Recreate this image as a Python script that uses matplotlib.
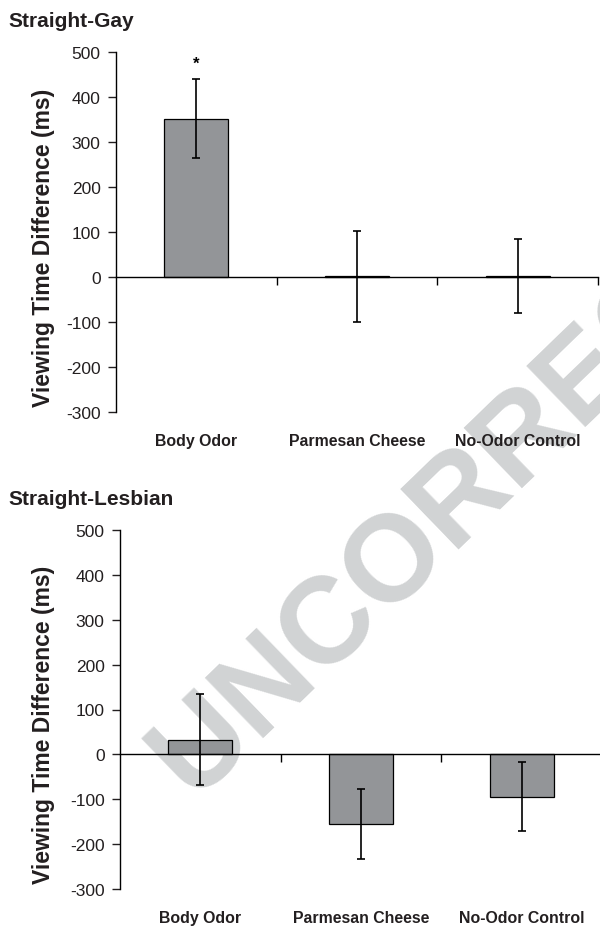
import matplotlib
matplotlib.use("Agg")
import matplotlib.pyplot as plt

plt.rcParams['font.family'] = ['Liberation Sans', 'DejaVu Sans']

# data
categories = ["Body Odor", "Parmesan Cheese", "No-Odor Control"]
gay_means = [352, 2, 1.5]
gay_errors = [87, 101, 82]
lesbian_means = [33, -155, -94]
lesbian_errors = [101, 78, 77]
panel_titles = ["Straight-Gay", "Straight-Lesbian"]
y_ticks = [-300, -200, -100, 0, 100, 200, 300, 400, 500]
star_value = 474

BAR_COLOR = '#939598'
TEXT_COLOR = '#231f20'
W, H = 600, 928


def draw_panel(ax, means, errors, star=None):
    x = list(range(len(categories)))
    ax.bar(x, means, width=0.4, color=BAR_COLOR, edgecolor='black',
           linewidth=0.9, zorder=2)
    ax.errorbar(x, means, yerr=errors, fmt='none', ecolor='black',
                elinewidth=1.2, capsize=3, capthick=1.2, zorder=3)
    if star is not None:
        ax.text(0, star, '*', ha='center', va='center', fontsize=12,
                fontweight='bold')

    ax.set_xlim(-0.5, len(categories) - 0.5)
    ax.set_ylim(y_ticks[0], y_ticks[-1])
    ax.set_yticks(y_ticks)
    ax.set_yticklabels([str(t) for t in y_ticks], fontsize=12.5)
    ax.set_xticks([i + 0.5 for i in range(len(categories))])
    ax.set_xticklabels([])

    ax.spines['top'].set_visible(False)
    ax.spines['right'].set_visible(False)
    ax.spines['bottom'].set_position(('data', 0))
    for s in ('left', 'bottom'):
        ax.spines[s].set_linewidth(1.0)
    ax.tick_params(axis='y', direction='out', length=6, width=1.0, pad=5,
                   colors=TEXT_COLOR)
    ax.tick_params(axis='x', direction='out', length=6, width=1.0)
    ax.set_facecolor('none')

    for i, name in enumerate(categories):
        ax.text(i, -0.078, name, transform=ax.get_xaxis_transform(),
                ha='center', va='center', fontsize=11.4, fontweight='bold',
                color=TEXT_COLOR)

    ax.set_ylabel('Viewing Time Difference (ms)', fontsize=16.5,
                  fontweight='bold', color=TEXT_COLOR)


fig = plt.figure(figsize=(W / 100, H / 100), dpi=100)

# watermark behind the plots, runs off the right edge like the original
fig.text(0.321, 0.139, 'UNCORRECTED', rotation=44, rotation_mode='anchor',
         ha='left', va='baseline', fontsize=88, fontweight='bold',
         color='#d1d3d4', zorder=-1)

ax1 = fig.add_axes([116 / W, 1 - 413 / H, 482 / W, 360 / H])
draw_panel(ax1, gay_means, gay_errors, star=star_value)
ax1.yaxis.set_label_coords((55 - 116) / 482, 0.46)

ax2 = fig.add_axes([120 / W, 1 - 890 / H, 482 / W, 359 / H])
draw_panel(ax2, lesbian_means, lesbian_errors)
ax2.yaxis.set_label_coords((55 - 120) / 482, 0.46)

fig.text(8 / W, 1 - 27 / H, panel_titles[0], ha='left', va='baseline',
         fontsize=15, fontweight='bold', color=TEXT_COLOR)
fig.text(8 / W, 1 - 505 / H, panel_titles[1], ha='left', va='baseline',
         fontsize=15, fontweight='bold', color=TEXT_COLOR)

fig.savefig('out.png', dpi=100)
